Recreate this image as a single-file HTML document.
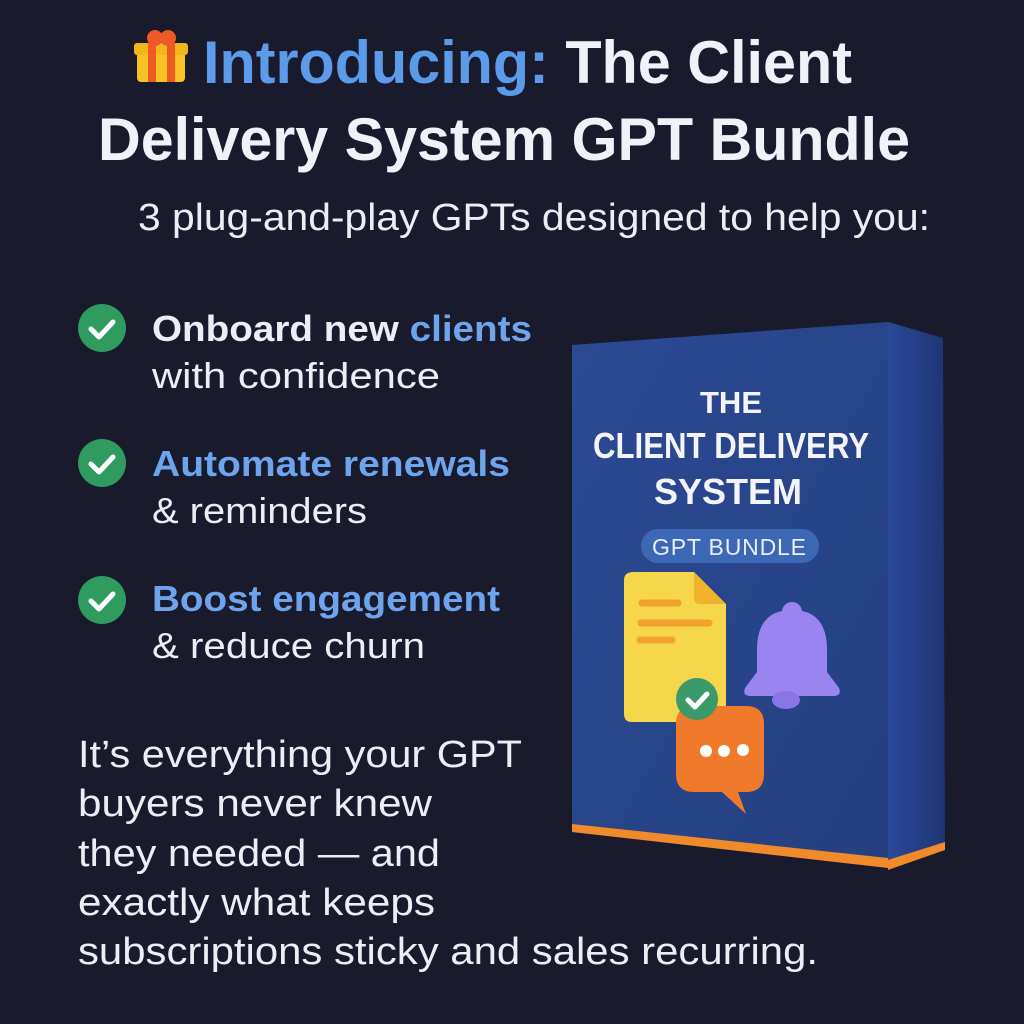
<!DOCTYPE html>
<html><head><meta charset="utf-8"><style>
html,body{margin:0;padding:0;background:#191a2c;}
svg{display:block}
text{font-family:"Liberation Sans","DejaVu Sans",sans-serif;}
</style></head><body>
<svg width="1024" height="1024" viewBox="0 0 1024 1024" xmlns="http://www.w3.org/2000/svg">
<defs>
<linearGradient id="front" x1="0" y1="0" x2="1" y2="1">
<stop offset="0" stop-color="#2c4a95"/><stop offset="1" stop-color="#24407f"/></linearGradient>
<linearGradient id="side" x1="0" y1="0" x2="1" y2="0">
<stop offset="0" stop-color="#2a4a9a"/><stop offset="1" stop-color="#1d3572"/></linearGradient>
</defs>
<rect width="1024" height="1024" fill="#191a2c"/>
<!-- Gift -->
<g>
<rect x="137" y="50" width="48" height="32" rx="4" fill="#f6c323"/>
<rect x="134" y="43" width="54" height="12" rx="3" fill="#f4b41b"/>
<rect x="148" y="43" width="8" height="39" fill="#ee5a26"/>
<rect x="167" y="43" width="8" height="39" fill="#ee5a26"/>
<circle cx="155" cy="38" r="8" fill="#ee5a26"/><circle cx="168" cy="38" r="8" fill="#ee5a26"/>
</g>
<text x="203" y="83" font-size="60" font-weight="bold" textLength="649" lengthAdjust="spacingAndGlyphs" fill="#f1f2f7"><tspan fill="#5b9be9">Introducing:</tspan> The Client</text>
<text x="98" y="160" font-size="60" font-weight="bold" textLength="812" lengthAdjust="spacingAndGlyphs" fill="#f1f2f7">Delivery System GPT Bundle</text>
<text x="138" y="230" font-size="38" textLength="792" lengthAdjust="spacingAndGlyphs" fill="#eceef4">3 plug-and-play GPTs designed to help you:</text>

<g fill="#2f9b5e">
<circle cx="102" cy="328" r="24"/><circle cx="102" cy="463" r="24"/><circle cx="102" cy="600" r="24"/></g>
<g fill="none" stroke="#fff" stroke-width="5" stroke-linecap="round" stroke-linejoin="round">
<path d="M91 329l8 8 14-15"/><path d="M91 464l8 8 14-15"/><path d="M91 601l8 8 14-15"/></g>

<g font-size="36" fill="#eceef4">
<text x="152" y="341" font-weight="bold" textLength="380" lengthAdjust="spacingAndGlyphs">Onboard new <tspan fill="#6ea4ec">clients</tspan></text>
<text x="152" y="388" textLength="288" lengthAdjust="spacingAndGlyphs">with confidence</text>
<text x="152" y="476" font-weight="bold" fill="#6ea4ec" textLength="358" lengthAdjust="spacingAndGlyphs">Automate renewals</text>
<text x="152" y="523" textLength="215" lengthAdjust="spacingAndGlyphs">&amp; reminders</text>
<text x="152" y="611" font-weight="bold" fill="#6ea4ec" textLength="348" lengthAdjust="spacingAndGlyphs">Boost engagement</text>
<text x="152" y="658" textLength="273" lengthAdjust="spacingAndGlyphs">&amp; reduce churn</text>
</g>
<g font-size="38" fill="#eceef4">
<text x="78" y="767" textLength="444" lengthAdjust="spacingAndGlyphs">It’s everything your GPT</text>
<text x="78" y="816" textLength="354" lengthAdjust="spacingAndGlyphs">buyers never knew</text>
<text x="78" y="866" textLength="362" lengthAdjust="spacingAndGlyphs">they needed — and</text>
<text x="78" y="915" textLength="357" lengthAdjust="spacingAndGlyphs">exactly what keeps</text>
<text x="78" y="964" textLength="740" lengthAdjust="spacingAndGlyphs">subscriptions sticky and sales recurring.</text>
</g>

<!-- Box -->
<polygon points="888,322 943,338 945,848 888,868" fill="url(#side)"/>
<polygon points="888,860 945,842 945,850 888,870" fill="#f08a2a"/>
<polygon points="572,345 888,322 888,868 572,832" fill="url(#front)"/>
<polygon points="572,824 888,858 888,868 572,832" fill="#f08a2a"/>
<g fill="#f3f5fb" font-weight="bold" text-anchor="middle">
<text x="731" y="413" font-size="31">THE</text>
<text x="731" y="458" font-size="36" textLength="276" lengthAdjust="spacingAndGlyphs">CLIENT DELIVERY</text>
<text x="728" y="504" font-size="36">SYSTEM</text>
</g>
<rect x="641" y="529" width="178" height="34" rx="17" fill="#3d68b5"/>
<text x="729" y="555" font-size="23" fill="#e8eefa" text-anchor="middle" textLength="154" lengthAdjust="spacing">GPT BUNDLE</text>
<!-- doc -->
<path d="M634 572h60l32 32v110q0 8-8 8h-86q-8 0-8-8v-134q0-8 10-8z" fill="#f6d64a"/>
<path d="M694 572v26q0 6 6 6h26z" fill="#f0b42c"/>
<g stroke="#f1a12e" stroke-width="7" stroke-linecap="round"><line x1="642" y1="603" x2="678" y2="603"/><line x1="641" y1="623" x2="709" y2="623"/><line x1="640" y1="640" x2="672" y2="640"/></g>
<!-- bell -->
<circle cx="792" cy="612" r="10" fill="#9a85f0"/>
<path d="M757 650q0-40 35-40q35 0 35 40v22l12 16q3 8-6 8h-82q-9 0-6-8l12-16z" fill="#9a85f0"/>
<ellipse cx="786" cy="700" rx="14" ry="9" fill="#8a75e6"/>
<!-- chat -->
<path d="M694 706h52q18 0 18 18v50q0 18-18 18h-8l8 22-24-22h-28q-18 0-18-18v-50q0-18 18-18z" fill="#ef7a2b"/>
<g fill="#fff"><circle cx="706" cy="751" r="6"/><circle cx="724" cy="751" r="6"/><circle cx="743" cy="750" r="6"/></g>
<circle cx="697" cy="699" r="21" fill="#3a9a68"/>
<path d="M688 700l7 7 12-13" fill="none" stroke="#fff" stroke-width="5" stroke-linecap="round" stroke-linejoin="round"/>
</svg>
</body></html>
